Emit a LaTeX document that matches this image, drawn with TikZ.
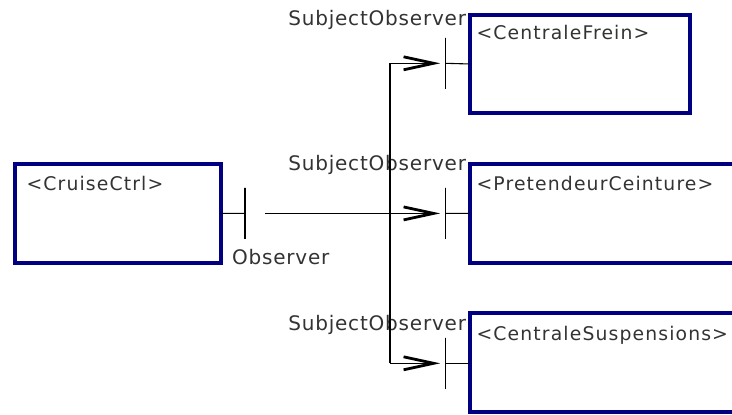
\documentclass[tikz,border=0pt]{standalone}
\usepackage{fontspec}
\usetikzlibrary{arrows.meta}
\newfontfamily\lblfont[LetterSpace=4]{DejaVu Sans}
\newfontfamily\boxfont[LetterSpace=6]{DejaVu Sans}
\definecolor{boxblue}{RGB}{0,0,128}
\definecolor{txtgray}{RGB}{51,51,51}
\tikzset{
  comp/.style={draw=boxblue, line width=4bp, rectangle, inner sep=0pt, outer sep=0pt, anchor=north west},
  port/.style={draw=black, line width=1.1bp, rectangle, minimum width=0pt, minimum height=51bp, inner sep=0pt, outer sep=0pt},
  conn/.style={draw=black, line width=1.1bp},
  flow/.style={conn, -{Straight Barb[length=30bp,width=13bp,line width=2.8bp]}, shorten >=5.5bp},
  lbl/.style={inner sep=0pt, outer sep=0pt, text=txtgray, font=\lblfont\fontsize{20bp}{24bp}\selectfont},
  boxlbl/.style={inner sep=0pt, outer sep=0pt, text=txtgray, anchor=base west, font=\boxfont\fontsize{18.8bp}{22bp}\selectfont}
}
\begin{document}
\begin{tikzpicture}[x=1bp,y=-1bp]
\useasboundingbox (0,0) rectangle (732,414);
\clip (0,0) rectangle (732,414);
% components
\node[comp, minimum width=206bp, minimum height=99.3bp] (cruise) at (14.7,163.7) {};
\node[comp, minimum width=219.5bp, minimum height=98.6bp] (frein) at (470,14.7) {};
\node[comp, minimum width=300bp, minimum height=99.3bp] (pret) at (470,163.7) {};
\node[comp, minimum width=300bp, minimum height=99bp] (susp) at (470,313) {};
% component labels
\node[boxlbl] (tcruise) at (26.6,190) {<CruiseCtrl>};
\node[boxlbl] (tfrein) at (476.6,39.5) {<CentraleFrein>};
\node[boxlbl] (tpret) at (476.6,190) {<PretendeurCeinture>};
\node[boxlbl] (tsusp) at (476.6,340) {<CentraleSuspensions>};
% ports
\node[port] (p0) at (245,213.4) {};
\node[port] (q1) at (445.7,63.3) {};
\node[port] (q2) at (445.7,213.4) {};
\node[port] (q3) at (445.7,363.3) {};
% port labels
\node[lbl, anchor=base west] (lobs) at (232,264) {Observer};
\node[lbl, anchor=base east] (ls1) at (466,25.7) {SubjectObserver};
\node[lbl, anchor=base east] (ls2) at (466,170.7) {SubjectObserver};
\node[lbl, anchor=base east] (ls3) at (466,330.7) {SubjectObserver};
% junction points
\coordinate (start) at (265,213.4);
\coordinate (bus1) at (390,63.3);
\coordinate (bus3) at (390,363.3);
% connectors
\draw[conn] (cruise.east) -- (p0);
\draw[conn] (q1) -- (frein.west);
\draw[conn] (q2) -- (pret.west);
\draw[conn] (q3) -- (susp.west |- q3);
\draw[conn] (bus1) -- (bus3);
\draw[flow] (start) -- (q2);
\draw[flow] (bus1) -- (q1);
\draw[flow] (bus3) -- (q3);
\end{tikzpicture}
\end{document}
